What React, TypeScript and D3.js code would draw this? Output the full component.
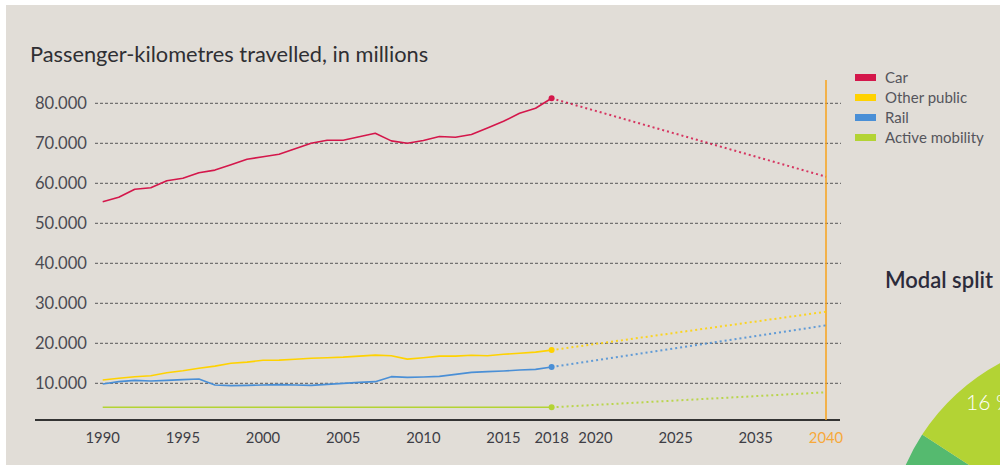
import React from "react";
import * as d3 from "d3";

const years = d3.range(1990, 2019);
const carValues = [55400, 56500, 58500, 58900, 60650, 61250, 62650, 63300, 64650, 66000, 66650, 67250, 68650, 70000, 70750, 70750, 71650, 72500, 70600, 70000, 70700, 71700, 71500, 72200, 73800, 75500, 77500, 78750, 81250];
const otherPublicValues = [10830, 11250, 11650, 11900, 12650, 13150, 13750, 14300, 15000, 15300, 15750, 15800, 16000, 16250, 16400, 16550, 16800, 17050, 16900, 16050, 16400, 16800, 16800, 17000, 16900, 17250, 17500, 17800, 18300];
const railValues = [9825, 10410, 10740, 10575, 10740, 10910, 11075, 9575, 9410, 9490, 9575, 9660, 9575, 9490, 9740, 9990, 10240, 10410, 11660, 11490, 11575, 11740, 12240, 12740, 12910, 13075, 13325, 13490, 14075];
const activeValues = [4000, 4000, 4000, 4000, 4000, 4000, 4000, 4000, 4000, 4000, 4000, 4000, 4000, 4000, 4000, 4000, 4000, 4000, 4000, 4000, 4000, 4000, 4000, 4000, 4000, 4000, 4000, 4000, 4000];

const projectionYears = [2018, 2040];
const carProjection = [81250, 61650];
const otherPublicProjection = [18300, 27900];
const railProjection = [14075, 24500];
const activeProjection = [4000, 7750];

const xTickYears = [1990, 1995, 2000, 2005, 2010, 2015, 2018, 2020, 2025, 2035, 2040];
const yTicks = [10000, 20000, 30000, 40000, 50000, 60000, 70000, 80000];

const seriesNames = ["Car", "Other public", "Rail", "Active mobility"];
const seriesColors = ["#d4174b", "#ffd200", "#4a8fd6", "#b3d334"];

const modalShares = [20, 16];
const modalColors = ["#55ba6f", "#b3d334"];

const locale = d3.formatLocale({ decimal: ",", thousands: ".", grouping: [3], currency: ["€", ""] });
const fmt = locale.format(",.0f");

export default function App() {
  const W = 1000;
  const H = 465;
  const font = "Lato, 'Open Sans', sans-serif";
  const x = d3
    .scaleLinear()
    .domain([1990, 2018, 2020, 2025, 2035, 2040])
    .range([102.7, 551.6, 595.5, 675.6, 755.7, 826]);
  const y = d3.scaleLinear().domain([0, 80000]).range([423.3, 103.3]);

  const line = d3
    .line<[number, number]>()
    .x((d) => x(d[0]))
    .y((d) => y(d[1]));

  const hist = [carValues, otherPublicValues, railValues, activeValues];
  const proj = [carProjection, otherPublicProjection, railProjection, activeProjection];

  // donut (only partly inside the picture)
  const cx = 1100;
  const cy = 550;
  const startBoundary = (-57 * Math.PI) / 180;
  const arcGen = d3.arc().innerRadius(125).outerRadius(212);
  const greenArc = {
    startAngle: startBoundary - (modalShares[0] / 100) * 2 * Math.PI,
    endAngle: startBoundary,
  };
  const activeArc = {
    startAngle: startBoundary,
    endAngle: startBoundary + (modalShares[1] / 100) * 2 * Math.PI,
  };
  const labelAngle = startBoundary + (20 * Math.PI) / 180;
  const labelR = 184;
  const labelX = labelR * Math.sin(labelAngle);
  const labelY = -labelR * Math.cos(labelAngle);

  return (
    <svg
      width={W}
      height={H}
      style={{ position: "absolute", left: 0, top: 0, background: "#ffffff" }}
      fontFamily={font}
    >
      <rect x={6} y={5} width={W - 6} height={H - 5} fill="#e1ddd7" />
      <text x={30} y={62} fontSize={21.8} fill="#2f2f33">
        Passenger-kilometres travelled, in millions
      </text>

      {yTicks.map((t) => (
        <g key={t}>
          <line x1={95} x2={841} y1={y(t)} y2={y(t)} stroke="#585858" strokeWidth={1} strokeDasharray="3,2" />
          <text x={87} y={y(t)} dy="0.36em" textAnchor="end" fontSize={16.6} fill="#4a4a52">
            {fmt(t)}
          </text>
        </g>
      ))}

      <line x1={35} x2={840} y1={420} y2={420} stroke="#333" strokeWidth={2} />
      <line x1={x(2040)} x2={x(2040)} y1={80} y2={420} stroke="#f7a21b" strokeWidth={1.5} />

      {xTickYears.map((t) => (
        <text
          key={t}
          x={x(t)}
          y={443}
          textAnchor="middle"
          fontSize={14.8}
          fill={t === 2040 ? "#f7a93a" : "#3e3e46"}
        >
          {t}
        </text>
      ))}

      {hist.map((vals, i) => (
        <g key={seriesNames[i]}>
          <path
            d={line(years.map((yr, j) => [yr, vals[j]] as [number, number])) || ""}
            fill="none"
            stroke={seriesColors[i]}
            strokeWidth={1.6}
            strokeLinejoin="round"
          />
          <path
            d={line(projectionYears.map((yr, j) => [yr, proj[i][j]] as [number, number])) || ""}
            fill="none"
            stroke={seriesColors[i]}
            strokeWidth={2}
            strokeDasharray="2,3"
            opacity={0.85}
          />
          <circle cx={x(2018)} cy={y(vals[vals.length - 1])} r={3} fill={seriesColors[i]} />
        </g>
      ))}

      {seriesNames.map((n, i) => (
        <g key={n} transform={`translate(855, ${74 + i * 20})`}>
          <rect x={0} y={0} width={21} height={7} fill={seriesColors[i]} />
          <text x={30} y={8.5} fontSize={15} fill="#55555c">
            {n}
          </text>
        </g>
      ))}

      <text x={885} y={288} fontSize={22} fontWeight={600} fill="#2b2b3b">
        Modal split
      </text>

      <g transform={`translate(${cx}, ${cy})`}>
        <path d={arcGen(greenArc as any) || ""} fill={modalColors[0]} />
        <path d={arcGen(activeArc as any) || ""} fill={modalColors[1]} />
        <text x={labelX} y={labelY} dy="0.35em" textAnchor="middle" fontSize={21} fontWeight={300} fill="#ffffff">
          {modalShares[1]} %
        </text>
      </g>
    </svg>
  );
}
